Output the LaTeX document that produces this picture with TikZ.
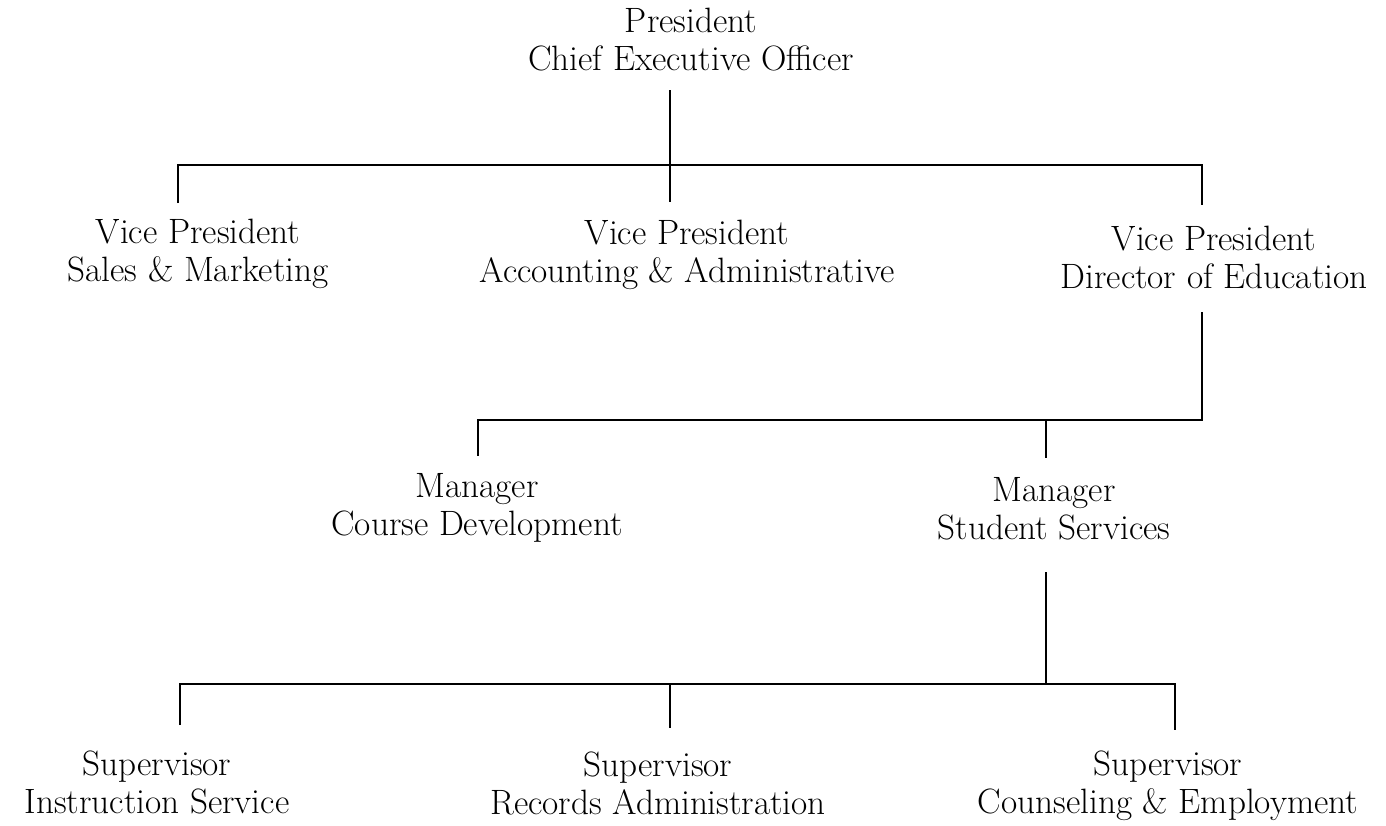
\documentclass[tikz,border=0pt]{standalone}
\begin{document}
\begin{tikzpicture}[x=0.5pt,y=-0.5pt,
  lbl/.style={align=center,font=\fontsize{17.6}{19}\selectfont,inner sep=0pt},
  conn/.style={line width=1.2pt,line join=miter}]
\fill[white] (0,0) rectangle (1386,825);
\useasboundingbox (0,0) rectangle (1386,825);
% labels
\node[lbl] (pres) at (691,40) {President\\Chief Executive Officer};
\node[lbl] (vpS) at (198,254) {Vice President\\Sales \& Marketing};
\node[lbl] (vpA) at (687,255) {Vice President\\Accounting \& Administrative};
\node[lbl] (vpE) at (1214,257) {Vice President\\Director of Education};
\node[lbl] (mgC) at (477,508) {Manager\\Course Development};
\node[lbl] (mgS) at (1054,509) {Manager\\Student Services};
\node[lbl] (suI) at (157,782) {Supervisor\\Instruction Service};
\node[lbl] (suR) at (658,783) {Supervisor\\Records Administration};
\node[lbl] (suC) at (1168,786) {Supervisor\\Counseling \& Employment};
% level 1 connectors
\coordinate (a1) at (670,90);
\coordinate (a2) at (670,202);
\coordinate (bL) at (178,165);
\coordinate (bR) at (1202,165);
\coordinate (bLd) at (178,203);
\coordinate (bRd) at (1202,205);
\draw[conn] (a1) -- (a2);
\draw[conn] (bLd) -- (bL) -- (bR) -- (bRd);
% level 2 connectors
\coordinate (e1) at (1202,312);
\coordinate (e2) at (1202,420);
\coordinate (m1) at (478,420);
\coordinate (m1d) at (478,456);
\coordinate (m2) at (1046,420);
\coordinate (m2d) at (1046,458);
\draw[conn] (e1) -- (e2) -- (m1) -- (m1d);
\draw[conn] (m2) -- (m2d);
% level 3 connectors
\coordinate (s0) at (1046,572);
\coordinate (s1) at (1046,684);
\coordinate (sL) at (180,684);
\coordinate (sR) at (1175,684);
\coordinate (sLd) at (180,725);
\coordinate (sRd) at (1175,730);
\coordinate (sM) at (670,684);
\coordinate (sMd) at (670,728);
\draw[conn] (s0) -- (s1);
\draw[conn] (sLd) -- (sL) -- (sR) -- (sRd);
\draw[conn] (sM) -- (sMd);
\end{tikzpicture}
\end{document}
